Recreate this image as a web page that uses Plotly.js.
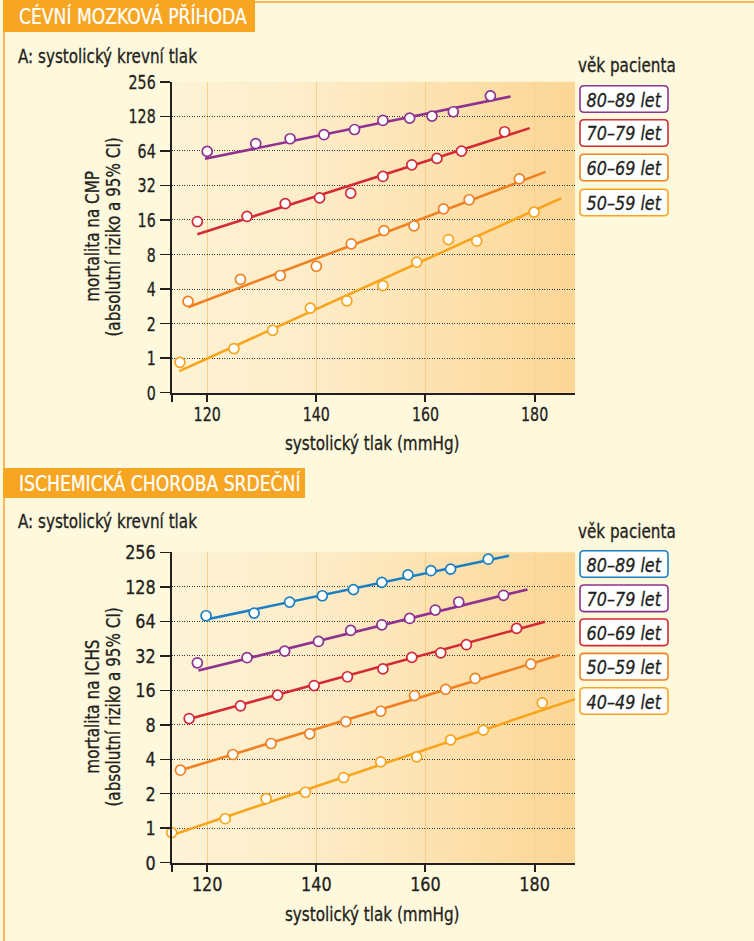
<!DOCTYPE html>
<html><head><meta charset="utf-8">
<script src="https://cdn.plot.ly/plotly-3.0.1.min.js"></script>
<style>html,body{margin:0;padding:0;background:#fef8dd;}#chart{width:754px;height:941px;}</style>
</head><body><div id="chart"></div>
<script>
// ---------- DATA ----------
// Top chart: Cévní mozková příhoda
const cmpAges = ['80–89 let','70–79 let','60–69 let','50–59 let'];
const cmp80x = [120, 128.9, 135.2, 141.4, 147.0, 152.2, 157.1, 161.2, 165.1, 171.9];
const cmp80y = [63.3, 73.9, 81.6, 88.5, 98.2, 117.8, 123.3, 128.4, 140.2, 193];
const cmp80fitX = [119.6, 175.6], cmp80fitY = [54.6, 190.7];
const cmp70x = [118.2, 127.3, 134.3, 140.6, 146.3, 152.2, 157.5, 162.1, 166.6, 174.5];
const cmp70y = [15.5, 17.2, 22.2, 24.9, 27.4, 38.3, 48.4, 55, 63.6, 93.9];
const cmp70fitX = [118.2, 179.1], cmp70fitY = [12, 101];
const cmp60x = [116.5, 126.1, 133.4, 140.0, 146.4, 152.4, 157.9, 163.3, 168.0, 177.2];
const cmp60y = [3.12, 4.85, 5.25, 6.32, 9.92, 12.9, 14.2, 20, 24, 36.5];
const cmp60fitX = [116.5, 182.0], cmp60fitY = [2.78, 42];
const cmp50x = [115.0, 124.9, 132.0, 138.9, 145.6, 152.2, 158.4, 164.2, 169.4, 179.9];
const cmp50y = [0.92, 1.21, 1.75, 2.73, 3.16, 4.29, 6.87, 10.8, 10.5, 18.7];
const cmp50fitX = [114.9, 184.9], cmp50fitY = [0.77, 24.8];

// Bottom chart: Ischemická choroba srdeční
const ichsAges = ['80–89 let','70–79 let','60–69 let','50–59 let','40–49 let'];
const ichs80x = [119.8, 128.6, 135.1, 141.1, 146.8, 152.0, 156.8, 161.0, 164.6, 171.5];
const ichs80y = [71.6, 75.6, 94.3, 107, 121, 140, 163, 177, 183, 223];
const ichs80fitX = [119.6, 175.3], ichs80fitY = [66, 239];
const ichs70x = [118.2, 127.3, 134.2, 140.4, 146.3, 152.0, 157.1, 161.8, 166.1, 174.3];
const ichs70y = [27.8, 30.8, 35.2, 42.7, 53.3, 59.7, 67.8, 80.3, 94.4, 108];
const ichs70fitX = [118.4, 178.7], ichs70fitY = [23.8, 121.6];
const ichs60x = [116.7, 126.1, 132.9, 139.6, 145.7, 152.2, 157.5, 162.8, 167.5, 176.7];
const ichs60y = [9.07, 11.7, 14.5, 17.6, 21, 24.6, 31, 34, 40, 55.5];
const ichs60fitX = [116.7, 181.9], ichs60fitY = [9.0, 63.5];
const ichs50x = [115.1, 124.7, 131.7, 138.8, 145.4, 151.8, 158.0, 163.7, 169.1, 179.3];
const ichs50y = [3.21, 4.4, 5.49, 6.67, 8.53, 10.5, 14.4, 16.3, 20.3, 27.1];
const ichs50fitX = [115.1, 184.6], ichs50fitY = [3.2, 32.5];
const ichs40x = [113.5, 123.3, 130.8, 138.0, 145.0, 151.8, 158.4, 164.6, 170.6, 181.4];
const ichs40y = [0.915, 1.21, 1.81, 2.06, 2.77, 3.79, 4.2, 5.9, 7.18, 12.4];
const ichs40fitX = [113.5, 187.4], ichs40fitY = [0.87, 13.4];

const yTickVals = [0.5, 1, 2, 4, 8, 16, 32, 64, 128, 256];
const yTickText = ['0','1','2','4','8','16','32','64','128','256'];
const xTickVals = [113.5, 120, 140, 160, 180];
const xTickText = ['', '120', '140', '160', '180'];

// ---------- STYLE ----------
const W = 754, H = 941;
const FONT = "'Liberation Sans Narrow', 'DejaVu Sans Condensed', 'Arial Narrow', 'Roboto', sans-serif";
const DARK = '#231f20';
const C = {purple:'#8e3191', red:'#d42a35', orange:'#f08122', yellow:'#f8a51d', blue:'#1b7fc4'};
const BAND = '#f6a623';
const px = x => x / W, py = y => 1 - y / H;

const traces = [];
function addSeries(fx, fy, mx, my, color, xa, ya) {
  traces.push({x: fx, y: fy, xaxis: xa, yaxis: ya, mode: 'lines', type: 'scatter',
    line: {color: color, width: 2.6}, hoverinfo: 'skip', cliponaxis: true});
  traces.push({x: mx, y: my, xaxis: xa, yaxis: ya, mode: 'markers', type: 'scatter',
    marker: {symbol: 'circle', size: 10, color: '#ffffff', line: {color: color, width: 1.7}},
    cliponaxis: false});
}
addSeries(cmp80fitX, cmp80fitY, cmp80x, cmp80y, C.purple, 'x', 'y');
addSeries(cmp70fitX, cmp70fitY, cmp70x, cmp70y, C.red, 'x', 'y');
addSeries(cmp60fitX, cmp60fitY, cmp60x, cmp60y, C.orange, 'x', 'y');
addSeries(cmp50fitX, cmp50fitY, cmp50x, cmp50y, C.yellow, 'x', 'y');
addSeries(ichs80fitX, ichs80fitY, ichs80x, ichs80y, C.blue, 'x2', 'y2');
addSeries(ichs70fitX, ichs70fitY, ichs70x, ichs70y, C.purple, 'x2', 'y2');
addSeries(ichs60fitX, ichs60fitY, ichs60x, ichs60y, C.red, 'x2', 'y2');
addSeries(ichs50fitX, ichs50fitY, ichs50x, ichs50y, C.orange, 'x2', 'y2');
addSeries(ichs40fitX, ichs40fitY, ichs40x, ichs40y, C.yellow, 'x2', 'y2');

function xAxis(anchor, dom) {
  return {domain: dom, anchor: anchor, range: [113.5, 187.4], tickvals: xTickVals, ticktext: xTickText,
    ticks: 'outside', ticklen: 7, tickwidth: 2, tickcolor: DARK, ticklabelstandoff: -5,
    showline: true, linecolor: DARK, linewidth: 2,
    showgrid: true, gridcolor: '#fbcd86', gridwidth: 1, zeroline: false,
    tickfont: {family: FONT, size: 20, color: DARK}, fixedrange: true};
}
function yAxis(anchor, dom) {
  return {domain: dom, anchor: anchor, type: 'log', range: [Math.log10(0.5), Math.log10(256) + 0.0005],
    tickvals: yTickVals, ticktext: yTickText,
    ticks: 'outside', ticklen: 10, tickwidth: 1.5, tickcolor: DARK,
    showline: true, linecolor: DARK, linewidth: 2,
    showgrid: true, gridcolor: '#3a3a3a', gridwidth: 1, griddash: '1px,1.5px', zeroline: false,
    tickfont: {family: FONT, size: 20, color: DARK}, fixedrange: true};
}

const shapes = [];
const annotations = [];

// gradient backgrounds of both plots
const stops = [[0, [253,243,214]], [0.35, [253,236,200]], [0.6, [253,228,180]], [0.85, [252,219,160]], [1, [251,214,150]]];
function gradColor(t) {
  for (let i = 0; i < stops.length - 1; i++) {
    const [a, ca] = stops[i], [b, cb] = stops[i + 1];
    if (t >= a && t <= b) {
      const f = (t - a) / (b - a);
      return 'rgb(' + ca.map((v, k) => Math.round(v + (cb[k] - v) * f)).join(',') + ')';
    }
  }
  return 'rgb(251,214,150)';
}
const N = 80;
[['x', 'y'], ['x2', 'y2']].forEach(([xa, ya]) => {
  for (let i = 0; i < N; i++) {
    shapes.push({type: 'rect', layer: 'below', xref: xa + ' domain', yref: ya + ' domain',
      x0: i / N, x1: Math.min(1, (i + 1) / N + 0.002), y0: 0, y1: 1,
      fillcolor: gradColor((i + 0.5) / N), line: {width: 0}});
  }
});

// section frames
shapes.push({type: 'line', xref: 'paper', yref: 'paper', x0: px(4), x1: px(4), y0: py(30), y1: py(941), line: {color: BAND, width: 1.5}});
shapes.push({type: 'line', xref: 'paper', yref: 'paper', x0: px(250), x1: px(754), y0: py(2), y1: py(2), line: {color: BAND, width: 1.5}});
shapes.push({type: 'rect', xref: 'paper', yref: 'paper', x0: px(3), x1: px(255), y0: py(32), y1: py(0), fillcolor: BAND, line: {width: 0}});
shapes.push({type: 'rect', xref: 'paper', yref: 'paper', x0: px(3), x1: px(305), y0: py(498), y1: py(468), fillcolor: BAND, line: {width: 0}});

function txt(text, x, y, opts) {
  annotations.push(Object.assign({text: text, xref: 'paper', yref: 'paper', x: px(x), y: py(y),
    showarrow: false, xanchor: 'left', align: 'left', yanchor: 'middle', borderpad: 0,
    font: {family: FONT, size: 19, color: DARK}}, opts || {}));
}
txt('CÉVNÍ MOZKOVÁ PŘÍHODA', 18, 16, {font: {family: FONT, size: 21, color: '#ffffff'}});
txt('ISCHEMICKÁ CHOROBA SRDEČNÍ', 18, 483, {font: {family: FONT, size: 21, color: '#ffffff'}});
txt('A: systolický krevní tlak', 17, 56);
txt('A: systolický krevní tlak', 17, 521);
txt('věk pacienta', 577, 65);
txt('věk pacienta', 577, 531);
// axis titles
txt('systolický tlak (mmHg)', 372, 443, {xanchor: 'center', align: 'center'});
txt('systolický tlak (mmHg)', 372, 914, {xanchor: 'center', align: 'center'});
txt('mortalita na CMP', 92, 237, {xanchor: 'center', align: 'center', textangle: -90});
txt('(absolutní riziko a 95% CI)', 113, 237, {xanchor: 'center', align: 'center', textangle: -90});
txt('mortalita na ICHS', 92, 707, {xanchor: 'center', align: 'center', textangle: -90});
txt('(absolutní riziko a 95% CI)', 113, 707, {xanchor: 'center', align: 'center', textangle: -90});

// legend boxes
function roundRect(x0, y0, x1, y1, r) {
  const rx = r / W, ry = r / H;
  const X0 = px(x0), X1 = px(x1), Y0 = py(y0), Y1 = py(y1);
  return `M ${X0 + rx},${Y0} L ${X1 - rx},${Y0} Q ${X1},${Y0} ${X1},${Y0 - ry} L ${X1},${Y1 + ry} Q ${X1},${Y1} ${X1 - rx},${Y1} L ${X0 + rx},${Y1} Q ${X0},${Y1} ${X0},${Y1 + ry} L ${X0},${Y0 - ry} Q ${X0},${Y0} ${X0 + rx},${Y0} Z`;
}
function legendBox(label, color, cy) {
  shapes.push({type: 'path', xref: 'paper', yref: 'paper', path: roundRect(580, cy - 13.3, 668, cy + 13.3, 4),
    fillcolor: '#ffffff', line: {color: color, width: 1.6}});
  txt(label, 624, cy + 0.5, {xanchor: 'center', align: 'center', font: {family: FONT, size: 20, color: DARK, style: 'italic'}});
}
const cmpColors = [C.purple, C.red, C.orange, C.yellow];
const cmpBoxY = [99, 133, 167.5, 202.5];
cmpAges.forEach((a, i) => legendBox(a, cmpColors[i], cmpBoxY[i]));
const ichsColors = [C.blue, C.purple, C.red, C.orange, C.yellow];
const ichsBoxY = [564, 598.3, 632.3, 666.7, 701];
ichsAges.forEach((a, i) => legendBox(a, ichsColors[i], ichsBoxY[i]));

const layout = {
  width: W, height: H, autosize: false,
  margin: {l: 0, r: 0, t: 0, b: 0, pad: 0},
  paper_bgcolor: '#fef8dd', plot_bgcolor: 'rgba(0,0,0,0)',
  showlegend: false,
  font: {family: FONT, size: 19, color: DARK},
  xaxis: xAxis('y', [px(171.7), px(575)]),
  yaxis: yAxis('x', [py(392.7), py(81.7)]),
  xaxis2: xAxis('y2', [px(171.7), px(575)]),
  yaxis2: yAxis('x2', [py(862.7), py(552.3)]),
  shapes: shapes, annotations: annotations
};

// narrow the installed sans face horizontally to resemble the condensed original typeface
function condense(gd) {
  gd.querySelectorAll('text').forEach(t => {
    let s = 0.89;
    if (t.closest('.xtick, .ytick')) s = 0.79;
    const content = t.textContent || '';
    const isBand = content === content.toUpperCase() && /[A-Z]/.test(content) && content.length > 12;
    if (isBand) s = 0.91;
    const ax = parseFloat(t.getAttribute('x')) || 0;
    const T = t.getAttribute('transform') || '';
    t.setAttribute('transform', `${T} translate(${ax},0) scale(${s},1) translate(${-ax},0)`);
    // slightly heavier strokes, like the original medium-weight face
    const fill = t.style.fill || DARK;
    t.style.stroke = fill;
    t.style.strokeWidth = isBand ? '0.25px' : '0.3px';
  });
}
Plotly.newPlot('chart', traces, layout, {displayModeBar: false, staticPlot: true}).then(condense);
</script></body></html>
